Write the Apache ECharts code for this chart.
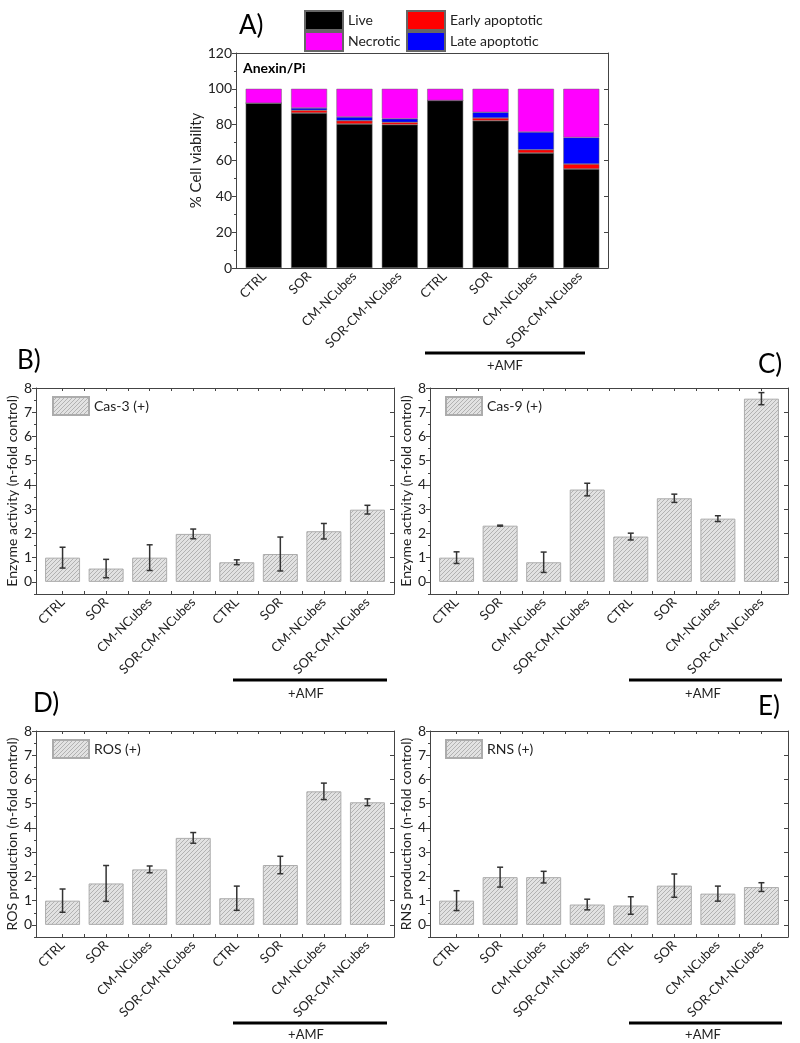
<!DOCTYPE html>
<html><head><meta charset="utf-8">
<script src="https://cdn.jsdelivr.net/npm/echarts@6/dist/echarts.min.js"></script>
<style>html,body{margin:0;padding:0;background:#fff}#c{width:800px;height:1043px}</style>
</head><body><div id="c"></div>
<script>
// ---------- DATA ----------
const categories = ['CTRL','SOR','CM-NCubes','SOR-CM-NCubes','CTRL','SOR','CM-NCubes','SOR-CM-NCubes'];
// Panel A (Anexin/Pi) stacked segments (%)
const live     = [92.0, 86.5, 80.4, 80.0, 93.5, 82.2, 64.2, 55.3];
const early    = [0.0, 1.5, 1.8, 1.3, 0.0, 1.5, 1.8, 2.7];
const late     = [0.0, 1.3, 2.1, 2.0, 0.0, 3.2, 9.9, 14.9];
const necrotic = [8.0, 10.7, 15.7, 16.7, 6.5, 13.1, 24.1, 27.1];
// Panel B Cas-3
const cas3     = [1.00, 0.55, 1.00, 1.98, 0.81, 1.15, 2.09, 2.98];
const cas3Err  = [0.43, 0.38, 0.53, 0.20, 0.10, 0.70, 0.32, 0.18];
// Panel C Cas-9
const cas9     = [1.00, 2.32, 0.81, 3.81, 1.87, 3.45, 2.61, 7.56];
const cas9Err  = [0.24, 0.02, 0.42, 0.26, 0.14, 0.17, 0.12, 0.25];
// Panel D ROS
const ros      = [1.00, 1.71, 2.29, 3.59, 1.10, 2.47, 5.51, 5.06];
const rosErr   = [0.48, 0.74, 0.14, 0.22, 0.50, 0.36, 0.34, 0.14];
// Panel E RNS
const rns      = [1.00, 1.97, 1.97, 0.84, 0.80, 1.62, 1.29, 1.56];
const rnsErr   = [0.41, 0.41, 0.24, 0.22, 0.36, 0.48, 0.31, 0.18];
// Tick labels
const yTicksA      = [0, 20, 40, 60, 80, 100, 120];
const yMinorTicksA = [10, 30, 50, 70, 90, 110];
const yTicksB      = [0, 1, 2, 3, 4, 5, 6, 7, 8];
const yMinorTicksB = [-0.5, 0.5, 1.5, 2.5, 3.5, 4.5, 5.5, 6.5, 7.5];

// ---------- STYLE HELPERS ----------
const FONT = 'Lato';
const AX = '#444';
const TXT = '#222';
function hatch() {
  const c = document.createElement('canvas'); c.width = 4; c.height = 4;
  const g = c.getContext('2d');
  g.fillStyle = '#e2e2e2'; g.fillRect(0, 0, 4, 4);
  g.strokeStyle = '#b2b2b2'; g.lineWidth = 1;
  g.beginPath();
  g.moveTo(0, 4); g.lineTo(4, 0);
  g.moveTo(-1, 1); g.lineTo(1, -1);
  g.moveTo(3, 5); g.lineTo(5, 3);
  g.stroke();
  return c;
}
const hatchColor = { image: hatch(), repeat: 'repeat' };

const catPos = categories.map((c, i) => i + 1);
const halfPos = categories.flatMap((c, i) => i < categories.length - 1 ? [i + 1, i + 1.5] : [i + 1]);
const catFmt = v => categories[Math.round(v) - 1] || '';

const grids = [
  { left: 236, top: 53, width: 372, height: 215 },   // A frame
  { left: 36,  top: 388, width: 358, height: 206 },  // B
  { left: 430, top: 388, width: 358, height: 206 },  // C
  { left: 36,  top: 731, width: 358, height: 206 },  // D
  { left: 430, top: 731, width: 358, height: 206 },  // E
  { left: 241, top: 53, width: 363, height: 215 }    // A bars (category)
];
const panels = [
  { ymin: 0, ymax: 120, majors: yTicksA, minors: yMinorTicksA, name: '% Cell viability', gap: 23, nfs: 15, xmin: 0.38, xmax: 8.62, xticks: false },
  { ymin: -0.5, ymax: 8, majors: yTicksB, minors: yMinorTicksB, name: 'Enzyme activity (n-fold control)', gap: 11, nfs: 14, xmin: 0.39, xmax: 8.61, xticks: true },
  { ymin: -0.5, ymax: 8, majors: yTicksB, minors: yMinorTicksB, name: 'Enzyme activity (n-fold control)', gap: 12, nfs: 14, xmin: 0.39, xmax: 8.61, xticks: true },
  { ymin: -0.5, ymax: 8, majors: yTicksB, minors: yMinorTicksB, name: 'ROS production (n-fold control)', gap: 11, nfs: 14, xmin: 0.39, xmax: 8.61, xticks: true },
  { ymin: -0.5, ymax: 8, majors: yTicksB, minors: yMinorTicksB, name: 'RNS production (n-fold control)', gap: 12, nfs: 14, xmin: 0.39, xmax: 8.61, xticks: true }
];

const xAxes = [], yAxes = [];
panels.forEach((p, gi) => {
  const line = { show: true, onZero: false, lineStyle: { color: AX, width: 1 } };
  xAxes.push({
    gridIndex: gi, type: 'value', position: 'bottom', min: p.xmin, max: p.xmax,
    axisLine: line, splitLine: { show: false },
    axisTick: { show: p.xticks, inside: true, length: 3, customValues: halfPos, lineStyle: { color: AX } },
    axisLabel: { customValues: catPos, formatter: catFmt, rotate: 45, fontSize: 13, color: TXT, margin: 6, fontFamily: FONT }
  });
  xAxes.push({
    gridIndex: gi, type: 'value', position: 'top', min: p.xmin, max: p.xmax,
    axisLine: line, splitLine: { show: false },
    axisTick: { show: p.xticks, inside: true, length: 3, customValues: halfPos, lineStyle: { color: AX } },
    axisLabel: { show: false }
  });
  yAxes.push({
    gridIndex: gi, type: 'value', position: 'left', min: p.ymin, max: p.ymax,
    axisLine: line, splitLine: { show: false },
    axisTick: { show: true, inside: false, length: 4, customValues: p.majors, lineStyle: { color: AX } },
    axisLabel: { customValues: p.majors, fontSize: 14, color: TXT, margin: 4, fontFamily: FONT },
    name: p.name, nameLocation: 'middle', nameGap: p.gap,
    nameTextStyle: { fontSize: p.nfs, color: TXT, fontFamily: FONT }
  });
  yAxes.push({
    gridIndex: gi, type: 'value', position: 'left', min: p.ymin, max: p.ymax,
    axisLine: { show: false }, splitLine: { show: false },
    axisTick: { show: true, inside: false, length: 2, customValues: p.minors, lineStyle: { color: AX } },
    axisLabel: { show: false }
  });
  yAxes.push({
    gridIndex: gi, type: 'value', position: 'right', min: p.ymin, max: p.ymax,
    axisLine: line, splitLine: { show: false },
    axisTick: { show: true, inside: true, length: 4, customValues: p.majors, lineStyle: { color: AX } },
    axisLabel: { show: false }
  });
});
// hidden category axes for panel A stacked bars (grid 5): xAxis index 10, yAxis index 15
xAxes.push({ gridIndex: 5, type: 'category', data: categories, show: false });
yAxes.push({ gridIndex: 5, type: 'value', min: 0, max: 120, show: false });

const toPts = arr => arr.map((v, i) => [i + 1, v]);
const toErr = (arr, err) => arr.map((v, i) => [i + 1, v, err[i]]);

const series = [];
// Panel A stacked
[['Live', live, '#000000'], ['Early apoptotic', early, '#ff0000'], ['Late apoptotic', late, '#0000ff'], ['Necrotic', necrotic, '#ff00ff']]
  .forEach(([n, d, c]) => series.push({
    name: n, type: 'bar', xAxisIndex: 10, yAxisIndex: 15, stack: 'A', barWidth: 36,
    data: d, itemStyle: { color: c, borderColor: '#666', borderWidth: 0.5 }, silent: true
  }));

function errRender(params, api) {
  const x = api.value(0), y = api.value(1), e = api.value(2);
  const t = api.coord([x, y + e]), b = api.coord([x, y - e]);
  const w = 3;
  const st = { stroke: '#333', lineWidth: 1.5 };
  return { type: 'group', children: [
    { type: 'line', shape: { x1: t[0], y1: t[1], x2: b[0], y2: b[1] }, style: st },
    { type: 'line', shape: { x1: t[0] - w, y1: t[1], x2: t[0] + w, y2: t[1] }, style: st },
    { type: 'line', shape: { x1: b[0] - w, y1: b[1], x2: b[0] + w, y2: b[1] }, style: st }
  ] };
}
[['Cas-3 (+)', cas3, cas3Err], ['Cas-9 (+)', cas9, cas9Err], ['ROS (+)', ros, rosErr], ['RNS (+)', rns, rnsErr]]
  .forEach(([n, d, e], k) => {
    const gi = k + 1;
    series.push({
      name: n, type: 'bar', xAxisIndex: gi * 2, yAxisIndex: gi * 3, barWidth: 35,
      data: toPts(d), itemStyle: { color: hatchColor, borderColor: '#acacac', borderWidth: 1 }, silent: true
    });
    series.push({
      name: n + ' err', type: 'custom', xAxisIndex: gi * 2, yAxisIndex: gi * 3,
      data: toErr(d, e), renderItem: errRender, z: 10, silent: true
    });
  });

const legTxt = { fontSize: 14, color: TXT, fontFamily: FONT };
function leg(name, left, top, w, h) {
  return { data: [name], left, top, itemWidth: w, itemHeight: h, icon: 'rect', textStyle: legTxt,
    itemGap: 5, padding: 0, selectedMode: false };
}
const legends = [
  leg('Live', 304, 10, 38, 19), leg('Early apoptotic', 406, 10, 38, 19),
  leg('Necrotic', 304, 31, 38, 19), leg('Late apoptotic', 406, 31, 38, 19),
  leg('Cas-3 (+)', 52, 396, 36, 18), leg('Cas-9 (+)', 445, 396, 36, 18),
  leg('ROS (+)', 52, 739, 36, 18), leg('RNS (+)', 445, 739, 36, 18)
];

const lbl = (t, x, y) => ({ type: 'text', x, y, style: { text: t, font: '26px ' + FONT, fill: '#000', textVerticalAlign: 'middle' } });
const amfLine = (x1, x2, y) => ({ type: 'line', shape: { x1, y1: y, x2, y2: y }, style: { stroke: '#000', lineWidth: 3 } });
const amfText = (x, y) => ({ type: 'text', x, y, style: { text: '+AMF', font: '13px ' + FONT, fill: TXT, textAlign: 'center', textVerticalAlign: 'middle' } });

const graphic = [
  lbl('A)', 239, 26), lbl('B)', 17, 361), lbl('C)', 758, 365), lbl('D)', 33, 704), lbl('E)', 758, 707),
  { type: 'text', x: 243, y: 68, style: { text: 'Anexin/Pi', font: 'bold 14px ' + FONT, fill: '#000', textVerticalAlign: 'middle' } },
  amfLine(425, 585, 353), amfText(505, 366),
  amfLine(233, 387, 680), amfText(306, 694),
  amfLine(629, 782, 680), amfText(703, 694),
  amfLine(233, 387, 1023), amfText(306, 1035),
  amfLine(629, 782, 1023), amfText(703, 1035)
];

const chart = echarts.init(document.getElementById('c'), null, { renderer: 'canvas' });
chart.setOption({
  animation: false,
  backgroundColor: '#fff',
  textStyle: { fontFamily: FONT },
  grid: grids,
  xAxis: xAxes,
  yAxis: yAxes,
  legend: legends,
  series,
  graphic
});
</script></body></html>
